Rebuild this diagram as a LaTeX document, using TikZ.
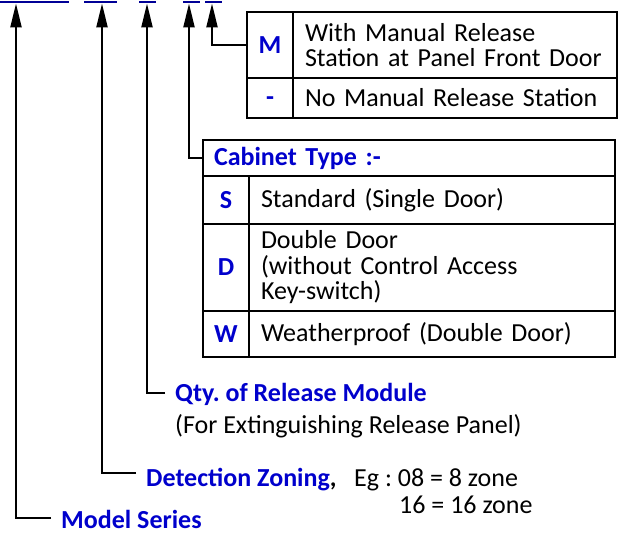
\documentclass[tikz,border=0pt]{standalone}
\usepackage{fontspec}
\setmainfont{Carlito}
\usepackage{tikz}
\usetikzlibrary{arrows.meta}
\usetikzlibrary{positioning}
\definecolor{codeblue}{RGB}{0,0,204}
\definecolor{barnavy}{RGB}{0,0,150}
\frenchspacing

\begin{document}
\begin{tikzpicture}[x=1pt, y=-1pt,
    every node/.style={font=\fontsize{26}{25.5}\selectfont},
    bar/.style={fill=barnavy, inner sep=0pt, minimum height=2.5pt},
    lead/.style={line width=2.2pt, -{Triangle[length=24pt,width=11pt]}},
    cell/.style={draw, line width=1.8pt, inner sep=0pt, outer sep=0pt},
    keycell/.style={cell, minimum width=46pt, text=codeblue, font=\fontsize{26}{25.5}\selectfont\bfseries},
    desccell/.style={cell, align=left, inner xsep=12pt, text width=#1},
    tag/.style={text=codeblue, font=\fontsize{26}{25.5}\selectfont\bfseries, inner xsep=10pt, inner ysep=0pt}]
        \useasboundingbox (0,0) rectangle (622,534);
        % code bars
        \foreach \name/\x/\w in {seriesbar/34.5/69, zoningbar/100.5/33, qtybar/147.5/17, cabinetbar/191.5/17, manualbar/213.5/17} {
          \node[bar, minimum width=\w pt] (\name) at (\x, 2) {};
        }
        % manual release table
        \node[keycell, minimum height=66pt] (keyM) at (270, 45) {M};
        \node[desccell=300pt, minimum height=66pt, right=0pt of keyM] (descM) {With Manual Release\\Station at Panel Front Door};
        \node[keycell, minimum height=40pt, below=0pt of keyM] (keyN) {\smash{\raisebox{-8pt}{-}}};
        \node[desccell=300pt, minimum height=40pt, right=0pt of keyN] (descN) {No Manual Release Station};
        % cabinet table
        \node[cell, text=codeblue, font=\fontsize{26}{25.5}\selectfont\bfseries, inner xsep=11pt, text width=390pt, align=left, minimum height=36pt] (cabinet) at (409, 158) {Cabinet Type :-};
        \node[keycell, minimum height=48pt, below=0pt of cabinet.south west, anchor=north west] (keyS) {S};
        \node[desccell=342pt, minimum height=48pt, right=0pt of keyS] (descS) {Standard (Single Door)};
        \node[keycell, minimum height=87pt, below=0pt of keyS] (keyD) {D};
        \node[desccell=342pt, minimum height=87pt, right=0pt of keyD] (descD) {Double Door\\(without Control Access\\Key-switch)};
        \node[keycell, minimum height=46pt, below=0pt of keyD] (keyW) {W};
        \node[desccell=342pt, minimum height=46pt, right=0pt of keyW] (descW) {Weatherproof (Double Door)};
        % labels
        \node[tag, anchor=base west] (qty) at (165, 402) {Qty. of Release Module};
        \node[anchor=base west, inner sep=0pt] (qtynote) at (175, 434) {(For Extinguishing Release Panel)};
        \node[tag, anchor=base west] (zoning) at (136, 487) {Detection Zoning{\color{black},}};
        \node[anchor=base west, inner sep=0pt] (zoneeg) at (354, 487) {Eg : 08 = 8 zone};
        \node[anchor=base west, inner sep=0pt] (zoneegb) at (399, 514) {16 = 16 zone};
        \node[tag, anchor=base west] (series) at (51, 529) {Model Series};
        % leaders
        \coordinate (manualbend) at (212, 45);
        \coordinate (cabinetbend) at (189, 158);
        \coordinate (qtybend) at (147, 393);
        \coordinate (zoningbend) at (102, 473);
        \coordinate (seriesbend) at (16, 518);
        \draw[lead] (keyM.west) -- (manualbend) -- (manualbar.south -| manualbend);
        \draw[lead] (cabinet.west) -- (cabinetbend) -- (cabinetbar.south -| cabinetbend);
        \draw[lead] (qtybend -| qty.west) -- (qtybend) -- (qtybar.south -| qtybend);
        \draw[lead] (zoningbend -| zoning.west) -- (zoningbend) -- (zoningbar.south -| zoningbend);
        \draw[lead] (seriesbend -| series.west) -- (seriesbend) -- (seriesbar.south -| seriesbend);
\end{tikzpicture}
\end{document}
